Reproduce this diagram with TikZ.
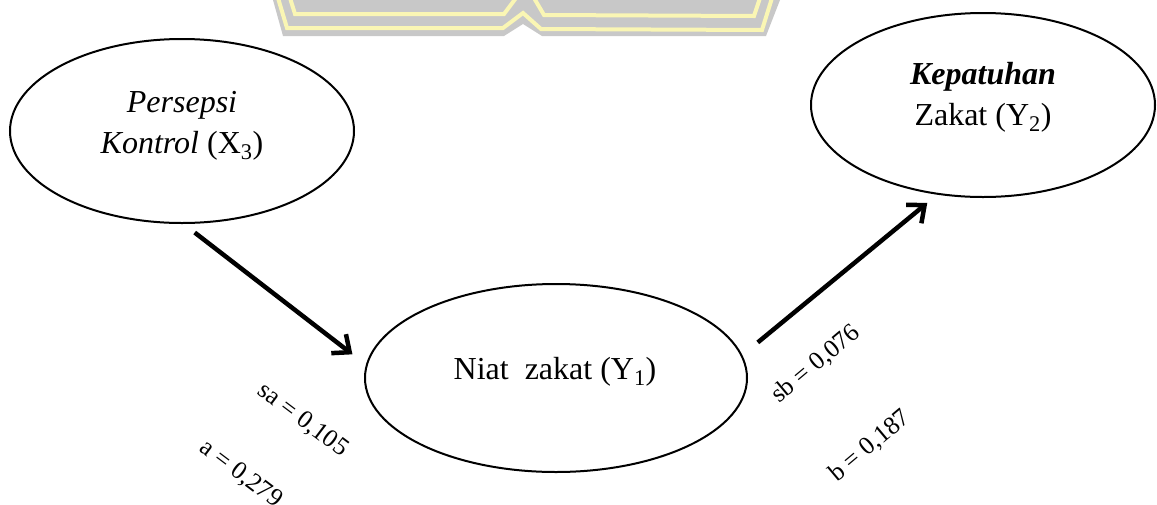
\documentclass[tikz,border=0pt]{standalone}
\usepackage{fontspec}
\setmainfont{Liberation Serif}
\usetikzlibrary{arrows.meta,shapes.geometric}
\definecolor{wmgrey}{RGB}{200,200,200}
\definecolor{wmyellow}{RGB}{250,246,180}
\begin{document}
\begin{tikzpicture}[x=1pt,y=-1pt,
  var/.style={draw, ellipse, line width=2pt, inner sep=0pt},
  txt/.style={font=\fontsize{32}{41}\selectfont, align=center, inner sep=0pt},
  coef/.style={font=\fontsize{25.5}{29}\selectfont, inner sep=0pt},
  link/.style={line width=4.5pt, -{Straight Barb[length=14pt,width=24pt]}}]
\useasboundingbox (0,0) rectangle (1157,504);
% watermark remnant
\fill[wmgrey] (273,0) -- (780,0) -- (766,36) -- (542,36) -- (523,24) -- (504,36) -- (283,36) -- cycle;
\draw[wmyellow, line width=4pt] (278,-2) -- (287,28) -- (503,28) -- (523,13) -- (541,29) -- (762,30) -- (772,-2);
\draw[wmyellow, line width=4pt] (290,-2) -- (295,14) -- (504,14) -- (516,-2);
\draw[wmyellow, line width=4pt] (534,-2) -- (544,15) -- (754,16) -- (760,-2);
% variables
\node[var, minimum width=344pt, minimum height=184pt] (x3) at (182,131) {};
\node[var, minimum width=344pt, minimum height=184pt] (y2) at (983,105) {};
\node[var, minimum width=382pt, minimum height=188pt] (y1) at (556,378) {};
\node[txt] (t3) at (182,126) {\textit{Persepsi}\\\textit{Kontrol} (X\textsubscript{3})};
\node[txt] (t2) at (983,97) {\textbf{\textit{Kepatuhan}}\\Zakat (Y\textsubscript{2})};
\node[txt, anchor=base] (t1) at (555,379) {Niat\ \ zakat (Y\textsubscript{1})};
% paths
\draw[link, shorten <=14pt, shorten >=17pt] (x3.-89) -- (y1.176);
\draw[link, shorten <=20pt, shorten >=13pt] (y1.7) -- (y2.243);
% coefficients
\node[coef, rotate=-37] (sa) at (303,420) {sa = 0,105};
\node[coef, rotate=-37] (a) at (241,474) {a = 0,279};
\node[coef, rotate=40] (sb) at (816,364) {sb = 0,076};
\node[coef, rotate=40] (b) at (870,446) {b = 0,187};
\end{tikzpicture}
\end{document}
